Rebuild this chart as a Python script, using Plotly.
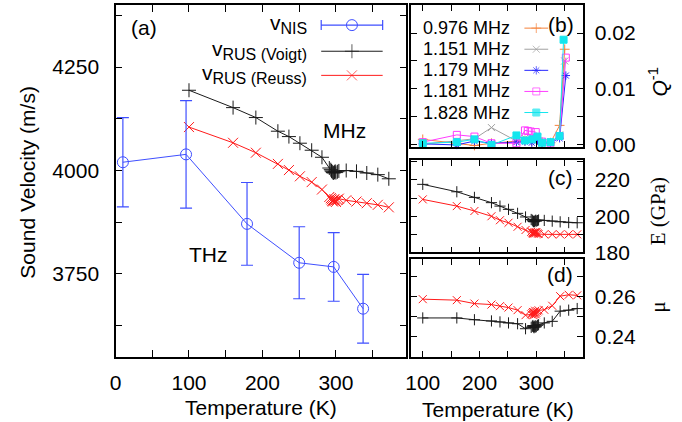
import plotly.graph_objects as go

# layout is designed on a 682 x 422 px grid; the figure itself is drawn a
# little taller, and every vertical position is given as a fraction of it
W, H = 682, 422
FIG_H = 435

# ---- (a) sound velocity ----
T_nis = [10, 96, 179, 250, 297, 337]
v_nis = [4020, 4039, 3871, 3777, 3767, 3666]
v_nis_err = [108, 130, 100, 87, 83, 83]

T_rus = [100, 160, 191, 221, 236, 251, 267, 281, 291, 293, 294, 295, 296,
         297, 298, 299, 300, 302, 304, 314, 328, 342, 357, 372]
v_voigt = [4194, 4152, 4128, 4095, 4082, 4066, 4049, 4032, 4006, 4002, 3999,
           3997, 3995, 3994, 3996, 3998, 3995, 3997, 3999, 4000, 3998, 3994,
           3990, 3980]
v_reuss = [4105, 4067, 4043, 4016, 4001, 3986, 3972, 3954, 3936, 3933, 3930,
           3927, 3925, 3928, 3931, 3927, 3924, 3929, 3932, 3928, 3925, 3921,
           3917, 3911]

# ---- (c) Young's modulus ----
E_voigt = [217.6, 213.5, 210.4, 207.5, 205.6, 203.8, 201.6, 199.6, 198.2,
           197.8, 197.4, 197.1, 196.9, 197.2, 197.5, 197.8, 197.3, 197.6,
           197.9, 197.7, 197.3, 196.9, 196.5, 196.4]
E_reuss = [209.3, 205.6, 202.9, 200.0, 197.8, 196.4, 194.2, 192.4, 191.4,
           191.0, 190.6, 190.3, 190.8, 191.2, 190.5, 190.9, 191.3, 190.6,
           190.2, 190.0, 190.0, 190.0, 190.0, 190.0]

# ---- (d) Poisson ratio ----
mu_voigt = [0.2494, 0.2494, 0.2485, 0.2479, 0.2474, 0.2469, 0.2465, 0.2440,
            0.2447, 0.2452, 0.2456, 0.2449, 0.2445, 0.2450, 0.2455, 0.2448,
            0.2452, 0.2457, 0.2460, 0.2469, 0.2477, 0.2528, 0.2533, 0.2541]
mu_reuss = [0.2588, 0.2583, 0.2566, 0.2561, 0.2553, 0.2546, 0.2533, 0.2508,
            0.2512, 0.2518, 0.2524, 0.2508, 0.2515, 0.2522, 0.2530, 0.2512,
            0.2520, 0.2527, 0.2532, 0.2535, 0.2555, 0.2603, 0.2610, 0.2607]

# ---- (b) internal friction ----
q_labels = ["0.976 MHz", "1.151 MHz", "1.179 MHz", "1.181 MHz", "1.828 MHz"]
T_q0976 = [100, 160, 191, 221, 265, 280, 292, 302, 310, 325, 341, 350]
q_0976 = [0.0010, 0.0003, -0.0001, 0.0003, 0.0006, 0.0008, 0.0007, 0.0009,
          0.0005, 0.0004, 0.0035, 0.0171]
T_q1151 = [100, 160, 191, 221, 265, 280, 292, 302, 310, 325, 341, 350]
q_1151 = [0.0001, 0.0007, 0.0011, 0.0031, 0.0007, 0.0012, 0.0015, 0.0012,
          0.0006, 0.0004, 0.0018, 0.0150]
T_q1179 = [100, 160, 191, 221, 265, 280, 292, 302, 310, 325, 341, 352]
q_1179 = [0.0002, 0.0000, 0.0007, 0.0003, 0.0005, 0.0006, 0.0004, 0.0008,
          0.0003, 0.0004, 0.0012, 0.0124]
T_q1181 = [100, 160, 191, 221, 265, 280, 285, 290, 299, 310, 325, 341, 352]
q_1181 = [0.0005, 0.0018, 0.0015, 0.0003, 0.0003, 0.0026, 0.0025, 0.0024,
          0.0023, 0.0006, 0.0004, 0.0016, 0.0156]
T_q1828 = [100, 160, 191, 221, 265, 280, 293, 302, 310, 325, 341, 348]
q_1828 = [0.0003, 0.0005, 0.0010, 0.0000, 0.0017, 0.0008, 0.0010, 0.0015,
          0.0004, 0.0005, 0.0016, 0.0188]

BLACK = "#1a1a1a"
RED = "#ff1a1a"
BLUE_NIS = "#3f4fff"
Q_COLORS = ["#f5813a", "#a0a0a0", "#2626ff", "#ff3cff", "#14e6ee"]
Q_SYMBOLS = ["cross-thin-open", "x-thin-open", "asterisk-open", "square-open", "square"]

FONT = "Liberation Sans, Arial, sans-serif"
SERIF = "Liberation Serif, Times New Roman, serif"
FS = 21

fig = go.Figure()

def sc(x, y, color, symbol, size, xa, ya, lw=1, **kw):
    return go.Scatter(x=x, y=y, xaxis=xa, yaxis=ya, mode="lines+markers",
                      line=dict(color=color, width=lw),
                      marker=dict(symbol=symbol, size=size, color=color,
                                  line=dict(color=color, width=1)),
                      showlegend=False, cliponaxis=False, **kw)

# panel (a)
fig.add_trace(sc(T_rus, v_voigt, BLACK, "cross-thin-open", 10, "x", "y"))
fig.add_trace(sc(T_rus, v_reuss, RED, "x-thin-open", 10, "x", "y"))
fig.add_trace(sc(T_nis, v_nis, BLUE_NIS, "circle-open", 11, "x", "y",
                 error_y=dict(type="data", array=v_nis_err, color=BLUE_NIS,
                              thickness=1.2, width=6)))

# panel (b)
for T, q, c, s in zip([T_q0976, T_q1151, T_q1179, T_q1181, T_q1828],
                      [q_0976, q_1151, q_1179, q_1181, q_1828],
                      Q_COLORS, Q_SYMBOLS):
    fig.add_trace(sc(T, q, c, s, 7, "x2", "y2"))

# panel (c)
fig.add_trace(sc(T_rus, E_voigt, BLACK, "cross-thin-open", 8, "x3", "y3"))
fig.add_trace(sc(T_rus, E_reuss, RED, "x-thin-open", 8, "x3", "y3"))

# panel (d)
fig.add_trace(sc(T_rus, mu_voigt, BLACK, "cross-thin-open", 8, "x4", "y4"))
fig.add_trace(sc(T_rus, mu_reuss, RED, "x-thin-open", 8, "x4", "y4"))

# legend keys drawn on a hidden overlay whose axes span the layout grid
key_a_y = [25, 51, 75]
fig.add_trace(go.Scatter(x=[349], y=[key_a_y[0]], xaxis="x5", yaxis="y5",
                         mode="markers", showlegend=False,
                         marker=dict(symbol="circle-open", size=11, color=BLUE_NIS,
                                     line=dict(color=BLUE_NIS, width=1)),
                         error_x=dict(type="constant", value=31, color=BLUE_NIS,
                                      thickness=1.2, width=5)))
for yk, c, s in zip(key_a_y[1:], [BLACK, RED], ["cross-thin-open", "x-thin-open"]):
    fig.add_trace(go.Scatter(x=[318, 349, 380], y=[yk] * 3, xaxis="x5", yaxis="y5",
                             mode="lines+markers", showlegend=False,
                             line=dict(color=c, width=1),
                             marker=dict(symbol=s, size=[0, 10, 0], color=c,
                                         line=dict(color=c, width=1))))
key_b_y = [28, 49, 70, 91, 112]
for yk, c, s in zip(key_b_y, Q_COLORS, Q_SYMBOLS):
    fig.add_trace(go.Scatter(x=[523, 535, 547], y=[yk] * 3, xaxis="x5", yaxis="y5",
                             mode="lines+markers", showlegend=False,
                             line=dict(color=c, width=1),
                             marker=dict(symbol=s, size=[0, 7, 0], color=c,
                                         line=dict(color=c, width=1))))

def px_dom_x(a, b):
    return [a / W, b / W]

def px_dom_y(top, bottom):
    return [(H - bottom) / H, (H - top) / H]

tickfont = dict(family=FONT, size=FS, color="black")
base = dict(showline=True, linecolor="black", linewidth=1.5, mirror="ticks",
            ticks="inside", ticklen=7, tickwidth=1.2, tickcolor="black",
            showgrid=False, zeroline=False, tickfont=tickfont)
minor = lambda d, n=7: dict(dtick=d, ticks="inside", ticklen=n, tickwidth=1.2,
                            tickcolor="black", showgrid=False)

xa_b = dict(base, range=[80, 382], tick0=100, dtick=100, minor=minor(50, 6),
            ticklen=6)

fig.update_layout(
    width=W, height=FIG_H, autosize=False, margin=dict(l=0, r=0, t=0, b=0, pad=0),
    paper_bgcolor="white", plot_bgcolor="rgba(0,0,0,0)",
    font=dict(family=FONT, color="black"),
    xaxis=dict(base, domain=px_dom_x(110.5, 404), range=[0, 396], anchor="y",
               tick0=0, dtick=100, minor=minor(50), ticklabelstandoff=6),
    yaxis=dict(base, domain=px_dom_y(5, 355), range=[3550, 4400], anchor="x",
               tick0=3750, dtick=250, minor=minor(125), ticksuffix="\u2002"),
    xaxis2=dict(xa_b, domain=px_dom_x(409, 582), anchor="y2", showticklabels=False),
    yaxis2=dict(base, domain=px_dom_y(5, 146.5), range=[-0.0004, 0.025],
                anchor="x2", side="right", tick0=0, dtick=0.01, tickformat=".2f",
                minor=minor(0.005, 6), ticklen=6, ticklabelstandoff=6),
    xaxis3=dict(xa_b, domain=px_dom_x(409, 582), anchor="y3", showticklabels=False),
    yaxis3=dict(base, domain=px_dom_y(159.3, 251.3), range=[180, 231],
                anchor="x3", side="right", tick0=180, dtick=20,
                minor=minor(10, 6), ticklen=6, ticklabelstandoff=6),
    xaxis4=dict(xa_b, domain=px_dom_x(409, 582), anchor="y4", ticklabelstandoff=6),
    yaxis4=dict(base, domain=px_dom_y(258, 355), range=[0.23, 0.2788],
                anchor="x4", side="right", tick0=0.24, dtick=0.02,
                tickformat=".2f", minor=minor(0.01, 6), ticklen=6,
                ticklabelstandoff=6),
    xaxis5=dict(domain=[0, 1], range=[0, W], visible=False, anchor="y5"),
    yaxis5=dict(domain=[0, 1], range=[H, 0], visible=False, anchor="x5"),
)

ann = []
def txt(x, y, s, size=FS, family=FONT, xanchor="center", angle=0):
    ann.append(dict(x=x / W, y=1 - y / H, xref="paper", yref="paper", text=s,
                    showarrow=False, xanchor=xanchor, yanchor="middle",
                    textangle=angle, font=dict(family=family, size=size,
                                               color="black")))

txt(22, 181, "Sound Velocity (m/s)", angle=-90)
txt(257, 406, "Temperature (K)")
txt(496, 408, "Temperature (K)")
txt(139, 27, "(a)")
txt(341, 130, "MHz")
txt(204, 253, "THz")
txt(560, 24, "(b)")
txt(559, 177, "(c)")
txt(559, 273, "(d)")
txt(658, 82, "<i>Q</i><sup>-1</sup>", angle=-90)
txt(658, 210, "E (GPa)", family=SERIF, angle=-90)
txt(658, 306, "μ", family=SERIF, angle=-90)

sub = "<sub><span style='font-size:16px'>%s</span></sub>"
txt(306, key_a_y[0] - 1, "v" + sub % "NIS", xanchor="right")
txt(306, key_a_y[1] - 1, "v" + sub % "RUS (Voigt)", xanchor="right")
txt(306, key_a_y[2] - 1, "v" + sub % "RUS (Reuss)", xanchor="right")
for yk, lab in zip(key_b_y, q_labels):
    txt(510, yk, lab, size=18, xanchor="right")

fig.update_layout(annotations=ann)
fig.write_html("out.html", config={"responsive": False})
